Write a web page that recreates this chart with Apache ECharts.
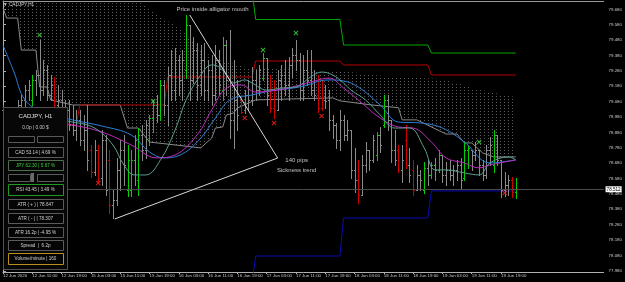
<!DOCTYPE html>
<html><head><meta charset="utf-8">
<script src="https://cdn.jsdelivr.net/npm/echarts@6/dist/echarts.min.js"></script>
<style>html,body{margin:0;padding:0;background:#000;overflow:hidden}#c{width:625px;height:282px}</style>
</head><body><div id="c"></div>
<script>
// ---------- DATA ----------
const xTickIdx = [0,8,16,24,32,40,48,56,64,72,80,88,96,104,112,120,128,136];
const xTickLabels = ['12 Jun 2020','12 Jun 11:00','12 Jun 19:00','15 Jun 03:00','15 Jun 11:00','15 Jun 19:00','16 Jun 03:00','16 Jun 11:00','16 Jun 19:00','17 Jun 03:00','17 Jun 11:00','17 Jun 19:00','18 Jun 03:00','18 Jun 11:00','18 Jun 19:00','19 Jun 03:00','19 Jun 11:00','19 Jun 19:00'];
const yTickLabels = [77.98,78.08,78.18,78.28,78.38,78.48,78.58,78.68,78.78,78.88,78.98,79.08,79.18,79.28,79.38,79.48,79.58,79.68];

const barOpen = [
79.026,78.928,78.895,78.947,79.012,79.058,79.091,79.155,79.091,79.221,
79.253,79.155,79.285,79.123,79.188,79.058,79.091,78.993,79.026,78.928,
78.895,78.961,78.830,78.895,78.766,78.623,78.766,78.584,78.830,78.701,
78.408,78.440,78.636,78.766,78.506,78.506,78.701,78.571,78.863,78.766,
78.830,78.973,79.058,78.993,79.188,79.058,79.253,79.155,79.350,79.221,
79.285,79.578,79.221,79.415,79.188,79.350,79.155,79.285,79.123,79.350,
79.155,79.448,79.221,78.961,79.091,79.091,79.026,79.123,79.091,79.221,
79.155,79.233,79.363,79.123,79.038,79.026,79.221,79.253,79.188,79.318,
79.383,79.350,79.155,79.285,79.221,79.155,79.123,79.038,79.091,79.091,
78.961,78.928,78.830,78.961,78.863,78.895,78.636,78.571,78.473,78.668,
78.766,78.701,78.733,78.863,78.928,79.091,78.961,78.766,78.766,78.636,
78.830,78.668,78.636,78.506,78.603,78.506,78.649,78.603,78.668,78.636,
78.733,78.603,78.636,78.603,78.636,78.668,78.584,78.766,78.766,78.733,
78.766,78.668,78.603,78.766,78.668,78.863,78.701,78.506,78.538,78.571,
78.493];
const barHigh = [
79.058,78.993,78.961,79.026,79.091,79.123,79.188,79.221,79.253,79.285,
79.480,79.350,79.318,79.253,79.240,79.188,79.155,79.091,79.091,79.058,
79.026,79.026,78.993,79.058,78.798,78.830,78.798,78.895,78.863,78.766,
78.506,78.714,78.830,78.863,78.798,78.766,78.863,78.908,78.928,78.961,
78.993,79.091,79.123,79.221,79.221,79.305,79.415,79.428,79.383,79.415,
79.643,79.578,79.500,79.461,79.448,79.461,79.350,79.383,79.448,79.415,
79.500,79.480,79.545,79.350,79.221,79.123,79.155,79.221,79.305,79.285,
79.318,79.396,79.363,79.253,79.221,79.285,79.318,79.350,79.370,79.428,
79.480,79.396,79.383,79.415,79.415,79.285,79.253,79.221,79.188,79.155,
78.993,78.941,79.026,78.993,78.961,78.895,78.779,78.701,78.733,78.817,
78.766,78.863,78.882,78.915,79.123,79.123,78.961,78.895,78.798,78.798,
78.928,78.779,78.701,78.668,78.636,78.688,78.701,78.688,78.714,78.766,
78.733,78.688,78.701,78.668,78.701,78.714,78.817,78.798,78.766,78.817,
78.766,78.701,78.798,78.850,78.895,78.863,78.701,78.623,78.603,78.590,
78.584];
const barLow = [
78.895,78.863,78.830,78.908,78.961,78.993,79.038,79.091,79.058,79.123,
79.091,79.123,79.091,79.091,79.038,79.012,78.961,78.928,78.895,78.863,
78.830,78.798,78.766,78.636,78.590,78.603,78.558,78.538,78.473,78.356,
78.324,78.408,78.506,78.538,78.466,78.466,78.538,78.473,78.701,78.714,
78.798,78.882,78.947,78.961,78.993,78.928,79.091,79.091,79.123,79.091,
79.233,79.091,79.201,79.091,79.123,79.091,79.091,79.058,79.091,79.123,
79.091,79.123,78.843,78.779,78.895,79.006,79.006,79.026,79.058,79.091,
79.123,79.221,79.058,79.012,78.973,79.026,79.091,79.123,79.091,79.240,
79.285,79.091,79.091,79.188,79.123,79.091,79.012,79.026,79.038,78.895,
78.843,78.779,78.766,78.830,78.830,78.584,78.493,78.421,78.473,78.623,
78.636,78.688,78.701,78.753,78.915,78.895,78.688,78.668,78.623,78.558,
78.649,78.558,78.473,78.506,78.506,78.486,78.538,78.584,78.571,78.623,
78.558,78.538,78.571,78.538,78.571,78.519,78.571,78.649,78.636,78.701,
78.603,78.571,78.584,78.668,78.623,78.668,78.460,78.466,78.473,78.460,
78.454];
const barClose = [
78.928,78.895,78.947,79.012,79.058,79.091,79.155,79.188,79.221,79.253,
79.155,79.285,79.123,79.188,79.058,79.091,78.993,79.026,78.928,78.895,
78.961,78.830,78.895,78.701,78.623,78.766,78.584,78.830,78.506,78.408,
78.440,78.636,78.766,78.668,78.701,78.701,78.830,78.863,78.766,78.928,
78.973,79.058,78.993,79.188,79.058,79.253,79.155,79.350,79.221,79.350,
79.578,79.221,79.415,79.188,79.350,79.155,79.285,79.123,79.350,79.188,
79.448,79.221,78.961,79.091,78.993,79.012,79.123,79.091,79.221,79.155,
79.285,79.363,79.123,79.038,79.026,79.221,79.253,79.188,79.318,79.383,
79.350,79.155,79.285,79.221,79.155,79.123,79.038,79.091,79.085,78.961,
78.928,78.830,78.961,78.863,78.895,78.636,78.571,78.473,78.668,78.766,
78.701,78.830,78.863,78.798,79.091,78.961,78.766,78.701,78.636,78.701,
78.668,78.603,78.506,78.603,78.571,78.649,78.603,78.668,78.636,78.733,
78.603,78.636,78.603,78.636,78.668,78.571,78.766,78.779,78.733,78.766,
78.668,78.603,78.766,78.798,78.863,78.701,78.506,78.538,78.571,78.493,
78.512];
// bar signal: 1 bullish highlight, -1 bearish highlight, 0 neutral
const barSignal = [
0,0,0,0,0,0,0,0,1,0, 0,0,0,0,-1,0,0,0,0,0, 0,0,0,0,-1,0,-1,0,0,-1,
0,0,0,0,1,1,0,1,0,0, 1,1,0,1,0,0,0,0,0,0, 1,0,0,0,0,0,0,0,0,0,
1,0,0,0,0,-1,0,0,0,0, 0,1,0,-1,-1,0,0,0,0,0, 0,0,0,0,0,0,-1,-1,0,0,
0,0,0,0,0,0,0,-1,0,0, 0,0,1,0,1,0,0,0,-1,0, -1,0,-1,0,0,1,0,1,0,1,
0,0,0,0,0,0,1,1,0,0, 0,0,0,0,1,0,0,0,0,-1, 1];

// moving averages (bar index, price)
const blueIdx   = [0,3,6,11,19,27,35,40,44,49,54,58,62,68,73,81,89,93,97,103,108,114,120,126,133,140];
const bluePrice = [79.448,79.272,79.091,79.012,78.961,78.921,78.863,78.753,78.714,78.740,78.843,78.973,79.091,79.123,79.149,79.175,79.221,79.214,79.175,79.058,78.947,78.941,78.908,78.817,78.681,78.701];
const magIdx    = [0,11,19,27,35,42,47,53,57,61,65,69,75,79,84,89,93,97,103,108,112,117,121,126,130,133,140];
const magPrice  = [78.973,78.961,78.928,78.882,78.798,78.714,78.733,78.863,79.026,79.168,79.188,79.142,79.155,79.175,79.207,79.233,79.168,79.091,78.973,78.915,78.908,78.817,78.714,78.681,78.649,78.668,78.701];
const tealIdx   = [0,11,19,25,30,33,36,39,43,47,50,54,57,59,61,63,66,68,72,76,80,84,87,90,93,95,99,103,107,111,115,118,121,126,130,133,138,140];
const tealPrice = [78.928,78.973,78.947,78.908,78.798,78.668,78.603,78.603,78.701,78.895,79.091,79.253,79.318,79.305,79.253,79.201,79.221,79.201,79.155,79.168,79.175,79.240,79.272,79.253,79.201,79.155,79.091,78.993,78.908,78.908,78.779,78.636,78.636,78.616,78.603,78.681,78.720,78.701];

// cloud (dotted zone) boundaries
const cloudTopIdx   = [0,38,40,49,54,59,67,81,95,108,114,120,124,128,137,140];
const cloudTopPrice = [79.720,79.720,79.675,79.545,79.415,79.350,79.298,79.285,79.272,79.233,79.233,79.227,79.201,79.168,79.123,79.110];
const cloudBotIdx   = [0,1,4,5,9,10,12,13,19,32,34,37,40,54,57,58,60,61,63,64,69,90,92,100,108,109,113,121,124,126,128,131,134,140];
const cloudBotPrice = [79.688,79.623,79.623,79.415,79.415,79.175,79.175,79.091,79.058,79.058,78.908,78.908,78.817,78.779,78.843,78.908,78.915,78.993,79.006,79.038,79.091,79.104,79.085,79.060,79.040,78.961,78.961,78.869,78.869,78.811,78.811,78.746,78.720,78.720];

// daily levels
const dayFirstBar = [0,21,45,69,93,117];
const dayLastBar  = [20,44,68,92,116,140];
const dailyRed   = [78.928,79.058,79.240,79.344,79.318,79.253];
const dailyGreen = [79.800,79.800,79.800,79.614,79.448,79.396];
const dailyBlue  = [77.900,77.900,77.900,78.076,78.323,78.499];

// fractal-like markers
const upMarkIdx = [10,41,71,80,130];
const upMarkPrice = [79.513,79.083,79.415,79.526,78.817];
const dnMarkIdx = [26,66,74,87,137];
const dnMarkPrice = [78.551,78.973,78.940,78.986,78.486];

// drawn trend lines (triangle)
const triIdx = [51,75,30.5];
const triPrice = [79.643,78.713,78.317];

// panel rows
const panelTitle = 'CADJPY, H1';
const panelPL = '0.0p | 0.00 $';
const rowCAD = 'CAD 53.14 | 4.69 %';
const rowJPY = 'JPY 62.30 | 5.67 %';
const rowRSI = 'RSI 43.45 | 3.49 %';
const rowATRp = 'ATR ( + ) | 78.647';
const rowATRm = 'ATR ( - ) | 78.307';
const rowATR = 'ATR 16.2p | -4.95 %';
const rowSpread = 'Spread  |  6.2p';
const rowVol = 'Volume/minute | 160';

// ---------- CHART ----------
const FONT = '"Liberation Sans", Arial, sans-serif';
const pairs = (xs, ys) => xs.map((x, k) => [x, ys[k]]);
const stepData = (levels) => { const d = []; levels.forEach((v, k) => { d.push([dayFirstBar[k], v]); d.push([dayLastBar[k], v]); }); return d; };
const lastClose = barClose[barClose.length - 1];

const pat = document.createElement('canvas'); pat.width = 4; pat.height = 3;
const pctx = pat.getContext('2d'); pctx.fillStyle = '#5c5c5c'; pctx.fillRect(0, 0, 1, 1);

const candleData = barOpen.map((o, i) => [i, o, barHigh[i], barLow[i], barClose[i], barSignal[i]]);
const sigColor = { '1': '#00d000', '-1': '#d00000', '0': '#8a8a8a' };

const xMark = 'path://M0,1.5L1.5,0L5,3.5L8.5,0L10,1.5L6.5,5L10,8.5L8.5,10L5,6.5L1.5,10L0,8.5L3.5,5Z';

const chart = echarts.init(document.getElementById('c'), null, { renderer: 'canvas' });
const gtext = (x, y, text, fill, size, align) => ({ type: 'text', x: x, y: y, z: 101, style: { text: text, fill: fill, font: size + 'px ' + FONT, align: align || 'center', verticalAlign: 'middle' } });
const grect = (x, y, w, h, stroke, fill) => ({ type: 'rect', z: 100, shape: { x: x + 0.5, y: y + 0.5, width: w, height: h }, style: { fill: fill || '#050505', stroke: stroke, lineWidth: 1 } });

chart.setOption({
  animation: false,
  backgroundColor: '#000',
  grid: { left: 1, right: 19, top: 1, bottom: 10, show: false },
  xAxis: [{
    type: 'value', min: 0, max: 164,
    axisLine: { lineStyle: { color: '#b0b0b0' } },
    axisTick: { customValues: xTickIdx, length: 2, lineStyle: { color: '#b0b0b0' } },
    axisLabel: { customValues: xTickIdx, formatter: (v) => xTickLabels[xTickIdx.indexOf(v)], color: '#c8c8c8', fontSize: 4.4, fontFamily: FONT, align: 'left', margin: 2 },
    splitLine: { show: false }
  }, {
    type: 'value', position: 'top', min: 0, max: 164,
    axisLine: { show: true, lineStyle: { color: '#9a9a9a' } },
    axisTick: { show: false }, axisLabel: { show: false }, splitLine: { show: false }
  }],
  yAxis: {
    type: 'value', position: 'right', min: 77.972, max: 79.734, scale: true,
    axisLine: { show: true, lineStyle: { color: '#b0b0b0' } },
    axisTick: { show: true, customValues: yTickLabels, length: 3, lineStyle: { color: '#b0b0b0' } },
    axisLabel: { customValues: yTickLabels, formatter: (v) => v.toFixed(3), color: '#c8c8c8', fontSize: 4.4, fontFamily: FONT, margin: 5 },
    splitLine: { show: false }
  },
  series: [
    { type: 'custom', name: 'cloud', z: 1, silent: true, clip: true, data: [0],
      renderItem: (params, api) => {
        const top = cloudTopIdx.map((x, k) => api.coord([x, cloudTopPrice[k]]));
        const bot = cloudBotIdx.map((x, k) => api.coord([x, cloudBotPrice[k]])).reverse();
        return { type: 'polygon', shape: { points: top.concat(bot) }, style: { fill: { image: pat, repeat: 'repeat' } } };
      } },
    { type: 'line', name: 'cloudLine', z: 2, silent: true, symbol: 'none', data: pairs(cloudBotIdx, cloudBotPrice), lineStyle: { color: '#8a8a8a', width: 1 },
      markLine: { silent: true, symbol: 'none', data: [{ yAxis: lastClose }], lineStyle: { color: '#4a4a4a', type: 'solid', width: 1 },
        label: { position: 'end', formatter: lastClose.toFixed(3), backgroundColor: '#ffffff', color: '#000', fontSize: 4.6, fontFamily: FONT, padding: [1, 1, 0, 1], distance: 2 } } },
    { type: 'line', name: 'red', z: 2, silent: true, symbol: 'none', data: stepData(dailyRed), lineStyle: { color: '#b80000', width: 1 } },
    { type: 'line', name: 'green', z: 2, silent: true, symbol: 'none', data: stepData(dailyGreen), lineStyle: { color: '#00a800', width: 1 } },
    { type: 'line', name: 'blue', z: 2, silent: true, symbol: 'none', data: stepData(dailyBlue), lineStyle: { color: '#0a0ab4', width: 1 } },
    { type: 'custom', name: 'bars', z: 3, silent: true, data: candleData,
      renderItem: (params, api) => {
        const i = api.value(0);
        const x = Math.round(api.coord([i, lastClose])[0]) + 0.5;
        const y = (p) => Math.round(api.coord([i, p])[1]) + 0.5;
        const col = sigColor[String(api.value(5))];
        const st = { stroke: col, lineWidth: 1 };
        return { type: 'group', children: [
          { type: 'line', shape: { x1: x, y1: y(api.value(2)) - 0.5, x2: x, y2: y(api.value(3)) + 0.5 }, style: st },
          { type: 'line', shape: { x1: x - 1.5, y1: y(api.value(1)), x2: x, y2: y(api.value(1)) }, style: st },
          { type: 'line', shape: { x1: x, y1: y(api.value(4)), x2: x + 1.5, y2: y(api.value(4)) }, style: st }
        ] };
      } },
    { type: 'line', name: 'slow', z: 4, silent: true, symbol: 'none', smooth: 0.4, data: pairs(blueIdx, bluePrice), lineStyle: { color: '#2b7fd6', width: 1 } },
    { type: 'line', name: 'mid', z: 4, silent: true, symbol: 'none', smooth: 0.4, data: pairs(magIdx, magPrice), lineStyle: { color: '#c02cc0', width: 1 } },
    { type: 'line', name: 'fast', z: 4, silent: true, symbol: 'none', smooth: 0.4, data: pairs(tealIdx, tealPrice), lineStyle: { color: '#5a9e92', width: 1 } },
    { type: 'line', name: 'triangle', z: 5, silent: true, symbol: 'none', data: pairs(triIdx, triPrice), lineStyle: { color: '#d8d8d8', width: 1 } },
    { type: 'scatter', name: 'up', z: 6, silent: true, symbol: xMark, symbolSize: 5, data: pairs(upMarkIdx, upMarkPrice), itemStyle: { color: '#3ce03c' } },
    { type: 'scatter', name: 'dn', z: 6, silent: true, symbol: xMark, symbolSize: 5, data: pairs(dnMarkIdx, dnMarkPrice), itemStyle: { color: '#ff2020' } },
    { type: 'scatter', name: 'notes', z: 7, silent: true, symbolSize: 0,
      data: [
        { value: [57.2, 79.682], label: { formatter: 'Price inside alligator mouth' } },
        { value: [80.2, 78.700], label: { formatter: '140 pips' } },
        { value: [80.2, 78.636], label: { formatter: 'Sickness trend' } }
      ],
      label: { show: true, position: 'inside', color: '#e8e8e8', fontSize: 6, fontFamily: FONT } }
  ],
  graphic: [
    gtext(3, 4.5, '\u25BC CADJPY,H1', '#d0d0d0', 4.7, 'left'),
    grect(3, 107, 64, 162, '#505050', '#070707'),
    gtext(35.5, 116.5, panelTitle, '#e0e0e0', 6),
    gtext(35.5, 127.5, panelPL, '#c8c8c8', 4.8),
    grect(8, 136, 26, 6, '#5a5a5a'), grect(37, 136, 26, 6, '#5a5a5a'),
    grect(8, 147, 55, 10, '#5a5a5a'), gtext(35.5, 152.5, rowCAD, '#d0d0d0', 4.6),
    grect(8, 160, 55, 10, '#4e6e4e'), gtext(35.5, 165.5, rowJPY, '#38d038', 4.6),
    grect(8, 174, 22, 7, '#5a5a5a'), grect(37, 174, 26, 7, '#5a5a5a'),
    { type: 'rect', z: 100, shape: { x: 31, y: 173, width: 3, height: 9 }, style: { fill: '#6a6a6a' } },
    grect(8, 184, 55, 11, '#1f9a1f'), gtext(35.5, 190, rowRSI, '#d0d0d0', 4.6),
    grect(8, 199, 55, 10, '#5a5a5a'), gtext(35.5, 204.5, rowATRp, '#d0d0d0', 4.6),
    grect(8, 213, 55, 10, '#5a5a5a'), gtext(35.5, 218.5, rowATRm, '#d0d0d0', 4.6),
    grect(8, 227, 55, 10, '#5a5a5a'), gtext(35.5, 232.5, rowATR, '#d0d0d0', 4.6),
    grect(8, 240, 55, 10, '#5a5a5a'), gtext(35.5, 245.5, rowSpread, '#d0d0d0', 4.6),
    grect(8, 253, 55, 11, '#b8901a'), gtext(35.5, 259, rowVol, '#d0d0d0', 4.6)
  ]
});
</script></body></html>
